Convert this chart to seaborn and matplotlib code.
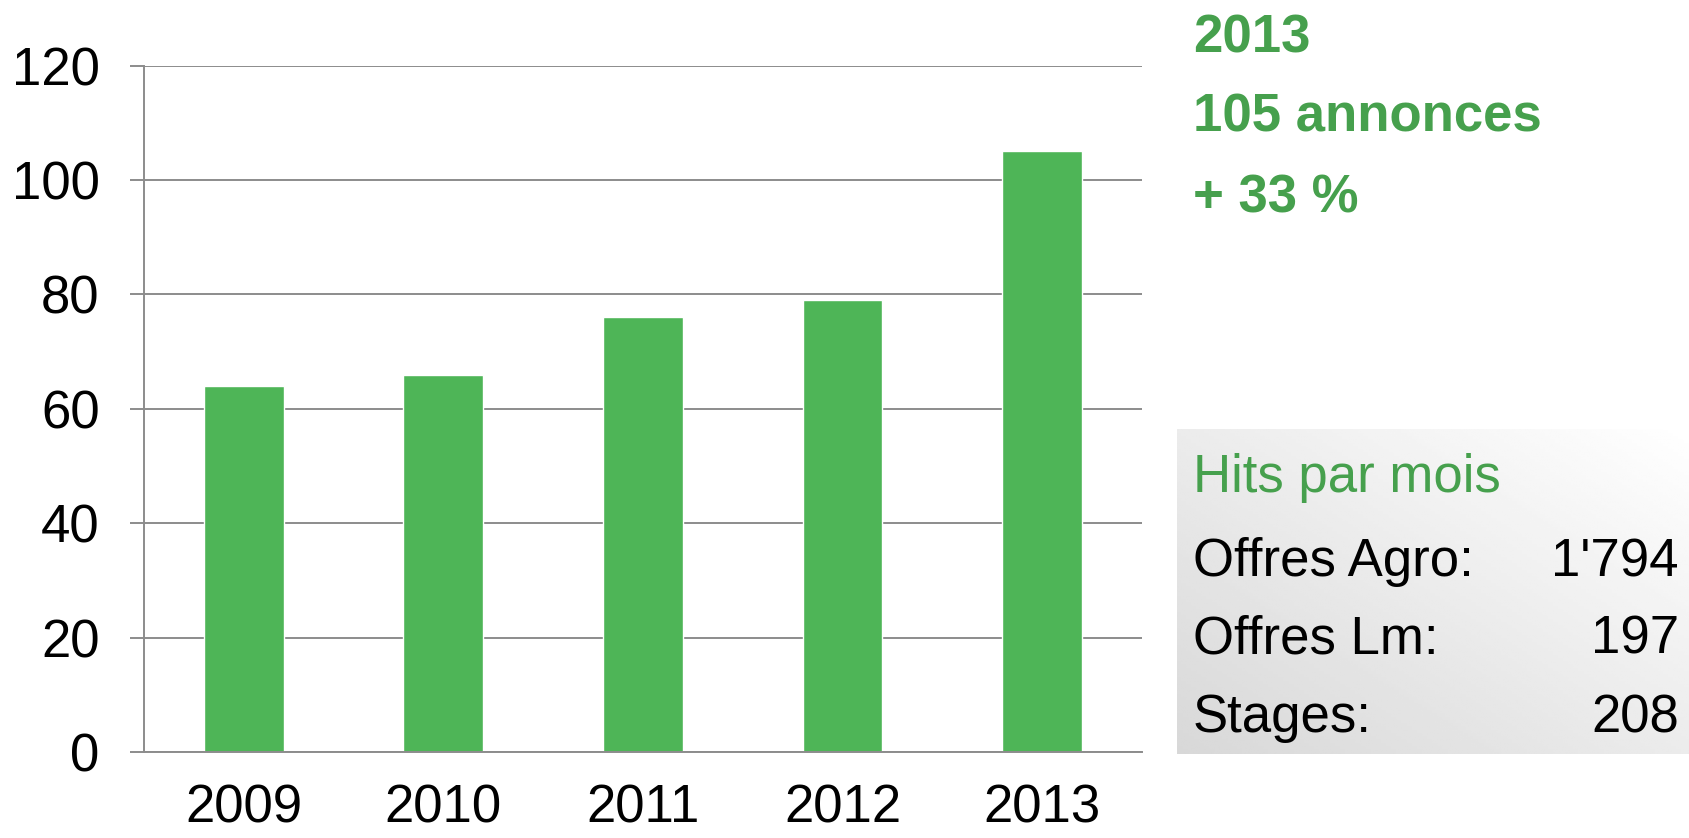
import numpy as np
import pandas as pd
import matplotlib
matplotlib.use("Agg")
import matplotlib.pyplot as plt
import seaborn as sns

years = ["2009", "2010", "2011", "2012", "2013"]
annonces = [64, 66, 76, 79, 105]
y_ticks = [0, 20, 40, 60, 80, 100, 120]

headline = ["2013", "105 annonces", "+ 33 %"]
box_title = "Hits par mois"
hit_labels = ["Offres Agro:", "Offres Lm:", "Stages:"]
hit_values = ["1'794", "197", "208"]

BAR_GREEN = "#4EB557"
TEXT_GREEN = "#46A04D"
GRID = "#8C8C8C"
FS = 38

sns.set_theme(style="white")
plt.rcParams["font.family"] = ["Liberation Sans", "DejaVu Sans"]

fig = plt.figure(figsize=(16.9, 8.38), dpi=100)
ax = fig.add_axes([0.0852, 0.1026, 0.5905, 0.819])

df = pd.DataFrame({"annee": years, "annonces": annonces})
sns.barplot(data=df, x="annee", y="annonces", color=BAR_GREEN, width=0.4,
            saturation=1, ax=ax)

ax.set_ylim(0, 120)
ax.set_xlim(-0.5, len(years) - 0.5)
ax.set_yticks(y_ticks)
ax.yaxis.grid(True, color=GRID, linewidth=1.4)
ax.set_axisbelow(True)
ax.set_xlabel("")
ax.set_ylabel("")
for side in ["top", "right"]:
    ax.spines[side].set_visible(False)
for side in ["left", "bottom"]:
    ax.spines[side].set_color(GRID)
    ax.spines[side].set_linewidth(1.4)
ax.tick_params(axis="y", which="major", left=True, length=10, width=1.4,
               color=GRID, pad=22, labelsize=FS, labelcolor="black")
ax.tick_params(axis="x", bottom=False, pad=17, labelsize=FS, labelcolor="black")

# headline texts
for txt, y in zip(headline, [0.9545, 0.8595, 0.7635]):
    fig.text(1193 / 1690, y, txt, color=TEXT_GREEN, fontsize=FS,
             fontweight="bold", ha="left", va="center")

# gradient box
bx = fig.add_axes([1177 / 1690, 1 - 754 / 838, 1 - 1177 / 1690, (754 - 429) / 838])
gx, gy = np.meshgrid(np.linspace(0, 1, 200), np.linspace(0, 1, 100))
grad = (1 - gx) * 0.5 + gy * 0.5
bx.imshow(1 - grad, cmap="gray", vmin=-5.5, vmax=1.0, origin="upper",
          aspect="auto", extent=[0, 1, 0, 1])
bx.set_axis_off()

fig.text(1193 / 1690, 1 - 478 / 838, box_title, color=TEXT_GREEN, fontsize=FS,
         ha="left", va="center")
for lab, val, ypx in zip(hit_labels, hit_values, [562, 640, 718]):
    fig.text(1193 / 1690, 1 - ypx / 838, lab, color="black", fontsize=FS,
             ha="left", va="center")
    fig.text(1679 / 1690, 1 - ypx / 838, val, color="black", fontsize=FS,
             ha="right", va="center")

fig.savefig("out.png", dpi=100)
